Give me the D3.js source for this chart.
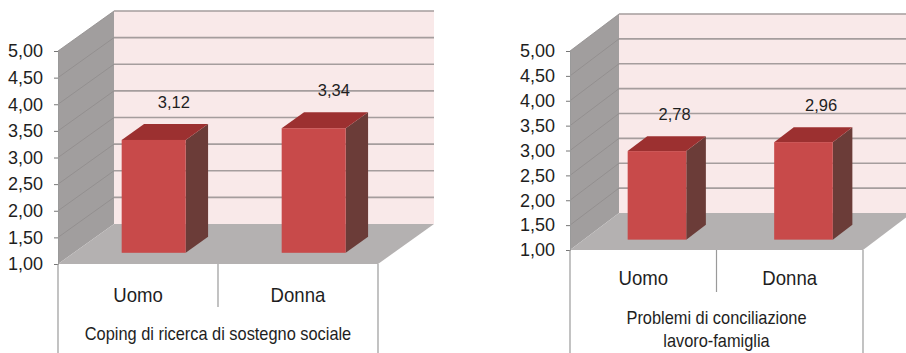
<!DOCTYPE html>
<html><head><meta charset="utf-8">
<script src="https://cdn.jsdelivr.net/npm/d3@7"></script>
<style>
html,body{margin:0;padding:0;background:#fff;}
svg{display:block;font-family:"Liberation Sans",Arial,sans-serif;}
</style></head>
<body>
<svg id="c" width="906" height="353"></svg>
<script>
// ---- data ----
const categories = ["Uomo", "Donna"];
const valuesCoping = [3.12, 3.34];
const valuesConciliazione = [2.78, 2.96];
const yTicks = [1.00, 1.50, 2.00, 2.50, 3.00, 3.50, 4.00, 4.50, 5.00];
const titleCoping = ["Coping di ricerca di sostegno sociale"];
const titleConciliazione = ["Problemi di conciliazione", "lavoro-famiglia"];

const it = d3.formatLocale({decimal: ",", thousands: ".", grouping: [3], currency: ["€", ""]});
const fmt = it.format(".2f");

const svg = d3.select("#c");

const C = {
  back: "#f9e9e9", side: "#a19e9e", floor: "#b4b1b1", grid: "#a59d9d",
  front: "#c84a4a", top: "#9c3030", sideBar: "#6b3c38", line: "#9a9a9a", text: "#1e1e1e"
};

function drawChart(L, values, title) {
  const g = svg.append("g");
  const y = d3.scaleLinear().domain([1, 5]).range([L.yb, L.yb - L.h]);
  const x = d3.scaleBand().domain(categories).range([L.x0, L.x1]);
  const dx = L.dx, dy = L.dy;

  // back wall
  g.append("rect").attr("x", L.x0 + dx).attr("y", y(5) - dy)
    .attr("width", L.x1 - L.x0).attr("height", y(1) - y(5)).attr("fill", C.back);
  // side wall
  g.append("polygon").attr("fill", C.side).attr("points", [
    [L.x0, y(1)], [L.x0, y(5)], [L.x0 + dx, y(5) - dy], [L.x0 + dx, y(1) - dy]].join(" "));
  // gridlines back + side
  g.selectAll(".gb").data(yTicks.filter(t => t > 1)).join("line")
    .attr("x1", L.x0 + dx).attr("x2", L.x1 + dx)
    .attr("y1", t => y(t) - dy).attr("y2", t => y(t) - dy)
    .attr("stroke", C.grid).attr("stroke-width", 1.6);
  g.selectAll(".gs").data(yTicks.filter(t => t > 1)).join("line")
    .attr("x1", L.x0).attr("x2", L.x0 + dx)
    .attr("y1", t => y(t)).attr("y2", t => y(t) - dy)
    .attr("stroke", "#8f8b8b").attr("stroke-width", 0.8);
  // floor
  g.append("polygon").attr("fill", C.floor).attr("points", [
    [L.x0, y(1)], [L.x1, y(1)], [L.x1 + dx, y(1) - dy], [L.x0 + dx, y(1) - dy]].join(" "));

  // axis
  const ax = g.append("g").attr("transform", `translate(${L.x0},0)`)
    .call(d3.axisLeft(y).tickValues(yTicks).tickFormat(fmt).tickSize(4).tickPadding(11));
  ax.select(".domain").attr("stroke", C.line);
  ax.selectAll(".tick line").attr("stroke", "#777");
  ax.selectAll(".tick text").attr("font-size", 18).attr("fill", C.text)
    .attr("font-family", "Liberation Sans, Arial, sans-serif");

  // bars
  const z0 = 0.28, z1 = 0.68, bw = x.bandwidth();
  const bdx = (z1 - z0) * dx, bdy = (z1 - z0) * dy;
  const data = categories.map((c, i) => ({c, v: values[i]}));
  const bars = g.selectAll(".bar").data(data).join("g");
  const fl = d => x(d.c) + bw * 0.3 + z0 * dx;
  const fr = d => x(d.c) + bw * 0.7 + z0 * dx;
  const ft = d => y(d.v) - z0 * dy;
  const fb = d => y(1) - z0 * dy;
  bars.append("polygon").attr("fill", C.sideBar).attr("points", d => [
    [fr(d), fb(d)], [fr(d), ft(d)], [fr(d) + bdx, ft(d) - bdy], [fr(d) + bdx, fb(d) - bdy]].join(" "));
  bars.append("polygon").attr("fill", C.top).attr("points", d => [
    [fl(d), ft(d)], [fr(d), ft(d)], [fr(d) + bdx, ft(d) - bdy], [fl(d) + bdx, ft(d) - bdy]].join(" "));
  bars.append("rect").attr("fill", C.front)
    .attr("x", fl).attr("y", ft).attr("width", d => fr(d) - fl(d)).attr("height", d => fb(d) - ft(d));
  bars.append("text").attr("text-anchor", "middle").attr("font-size", 16.5).attr("fill", C.text)
    .attr("x", d => (fl(d) + fr(d)) / 2 + bdx * 0.9)
    .attr("y", d => ft(d) - bdy - 16)
    .text(d => fmt(d.v));

  // category table
  const lines = [
    [L.x0, y(1), L.x0, L.bottom], [L.x1, y(1), L.x1, L.bottom],
    [x(categories[1]), y(1), x(categories[1]), L.divBottom]];
  g.selectAll(".cl").data(lines).join("line")
    .attr("x1", d => d[0]).attr("y1", d => d[1]).attr("x2", d => d[2]).attr("y2", d => d[3])
    .attr("stroke", C.line).attr("stroke-width", 1.2);
  g.selectAll(".cat").data(categories).join("text")
    .attr("transform", d => `translate(${x(d) + bw / 2},${L.catY}) scale(0.93,1)`)
    .attr("text-anchor", "middle")
    .attr("font-size", 20).attr("fill", C.text).text(d => d);
  g.selectAll(".tt").data(title).join("text")
    .attr("transform", (d, i) => `translate(${(L.x0 + L.x1) / 2},${L.titleY + i * 23}) scale(0.91,1)`)
    .attr("text-anchor", "middle").attr("font-size", 18).attr("fill", C.text).text(d => d);
}

drawChart({x0: 58, x1: 378, yb: 264, h: 213, dx: 56, dy: 40, bottom: 353, divBottom: 307, catY: 302, titleY: 340},
  valuesCoping, titleCoping);
drawChart({x0: 570, x1: 863, yb: 250, h: 199, dx: 49, dy: 37, bottom: 353, divBottom: 292, catY: 285, titleY: 324},
  valuesConciliazione, titleConciliazione);
</script>
</body></html>
